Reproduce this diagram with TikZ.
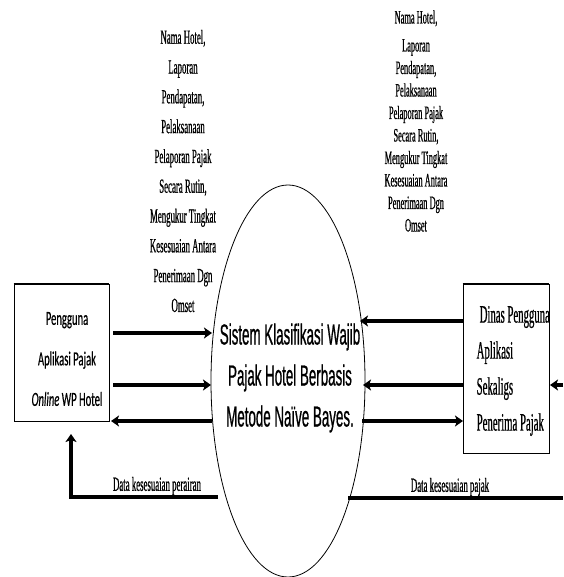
\documentclass[tikz,border=0pt]{standalone}
\usepackage{fontspec}
\usetikzlibrary{arrows.meta,shapes.geometric}
\newfontfamily\tnr[FakeStretch=0.44,FakeBold=0.6]{Liberation Serif}
\newfontfamily\tnrb[FakeStretch=0.43,FakeBold=0.6]{Liberation Serif}
\newfontfamily\arl[FakeStretch=0.46,FakeBold=0.6]{Liberation Sans}
\newfontfamily\clb[FakeStretch=0.53,FakeBold=0.5]{Carlito}
\tikzset{
  flow/.style={line width=3.2pt,-{Stealth[length=8pt,width=11pt,inset=2pt]}},
  plainline/.style={line width=3.2pt},
  boxstyle/.style={draw,line width=0.8pt,inner sep=0pt},
  topedge/.style={line width=1.8pt},
  toplabel/.style={align=center,inner sep=0pt},
}
\begin{document}
\begin{tikzpicture}[x=1pt,y=-1pt]
\useasboundingbox (0,0) rectangle (563,577);
% top labels
\node[toplabel,font=\tnr\fontsize{20}{29.8}\selectfont] (lbl1) at (183,171) {Nama Hotel,\\Laporan\\Pendapatan,\\Pelaksanaan\\Pelaporan Pajak\\Secara Rutin,\\Mengukur Tingkat\\Kesesuaian Antara\\Penerimaan Dgn\\Omset};
\node[toplabel,font=\tnr\fontsize{19}{22.5}\selectfont] (lbl2) at (416,121) {Nama Hotel,\\[5.5pt]Laporan\\Pendapatan,\\Pelaksanaan\\Pelaporan Pajak\\Secara Rutin,\\Mengukur Tingkat\\Kesesuaian Antara\\Penerimaan Dgn\\Omset};
% process ellipse
\node[draw,ellipse,line width=0.8pt,minimum width=154pt,minimum height=392pt,inner sep=0pt] (ell) at (288,381) {};
\node[align=center,inner sep=0pt,font=\arl\fontsize{29}{41}\selectfont] (ellt) at (290,378) {Sistem Klasifikasi Wajib\\Pajak Hotel Berbasis\\Metode Naïve Bayes.};
% left entity
\node[boxstyle,minimum width=95pt,minimum height=137pt] (lbox) at (61.5,352.5) {};
\draw[topedge] (lbox.north west) -- (lbox.north east);
\node[align=center,inner sep=0pt,font=\clb\fontsize{20}{40.5}\selectfont] (lboxt) at (67,359) {Pengguna\\Aplikasi Pajak\\\textit{Online} WP Hotel};
% right entity
\node[boxstyle,minimum width=86pt,minimum height=169pt] (rbox) at (506,368.5) {};
\draw[topedge] (rbox.north west) -- (rbox.north east);
\node[align=left,anchor=west,inner sep=0pt,font=\tnrb\fontsize{25}{36}\selectfont] (rboxt) at (476.5,371) {\hspace{3pt}Dinas Pengguna\\Aplikasi\\Sekaligs\\Penerima Pajak};
% coordinates
\coordinate (l1s) at (113,333); \coordinate (l1e) at (212,333);
\coordinate (l2s) at (113,385); \coordinate (l2e) at (211,385);
\coordinate (l3s) at (212,421); \coordinate (l3e) at (111,421);
\coordinate (r1s) at (463,321); \coordinate (r1e) at (360,321);
\coordinate (r2s) at (463,385); \coordinate (r2e) at (363,385);
\coordinate (r3s) at (362,421); \coordinate (r3e) at (463,421);
\coordinate (xin) at (563,385); \coordinate (xine) at (550,385);
\coordinate (bl1) at (218,497); \coordinate (bl2) at (71,497); \coordinate (bl3) at (71,434);
\coordinate (br1) at (348,498); \coordinate (br2) at (563,498);
% connectors
\draw[flow] (l1s) -- (l1e);
\draw[flow] (l2s) -- (l2e);
\draw[flow] (l3s) -- (l3e);
\draw[flow] (r1s) -- (r1e);
\draw[flow] (r2s) -- (r2e);
\draw[flow] (r3s) -- (r3e);
\draw[flow] (xin) -- (xine);
\draw[flow] (bl1) -- (bl2) -- (bl3);
\draw[plainline] (br1) -- (br2);
% bottom labels
\node[inner sep=0pt,font=\tnr\fontsize{20}{20}\selectfont] (dl1) at (157,486) {Data kesesuaian perairan};
\node[inner sep=0pt,font=\tnr\fontsize{20}{20}\selectfont] (dl2) at (450,487) {Data kesesuaian pajak};
\end{tikzpicture}
\end{document}
